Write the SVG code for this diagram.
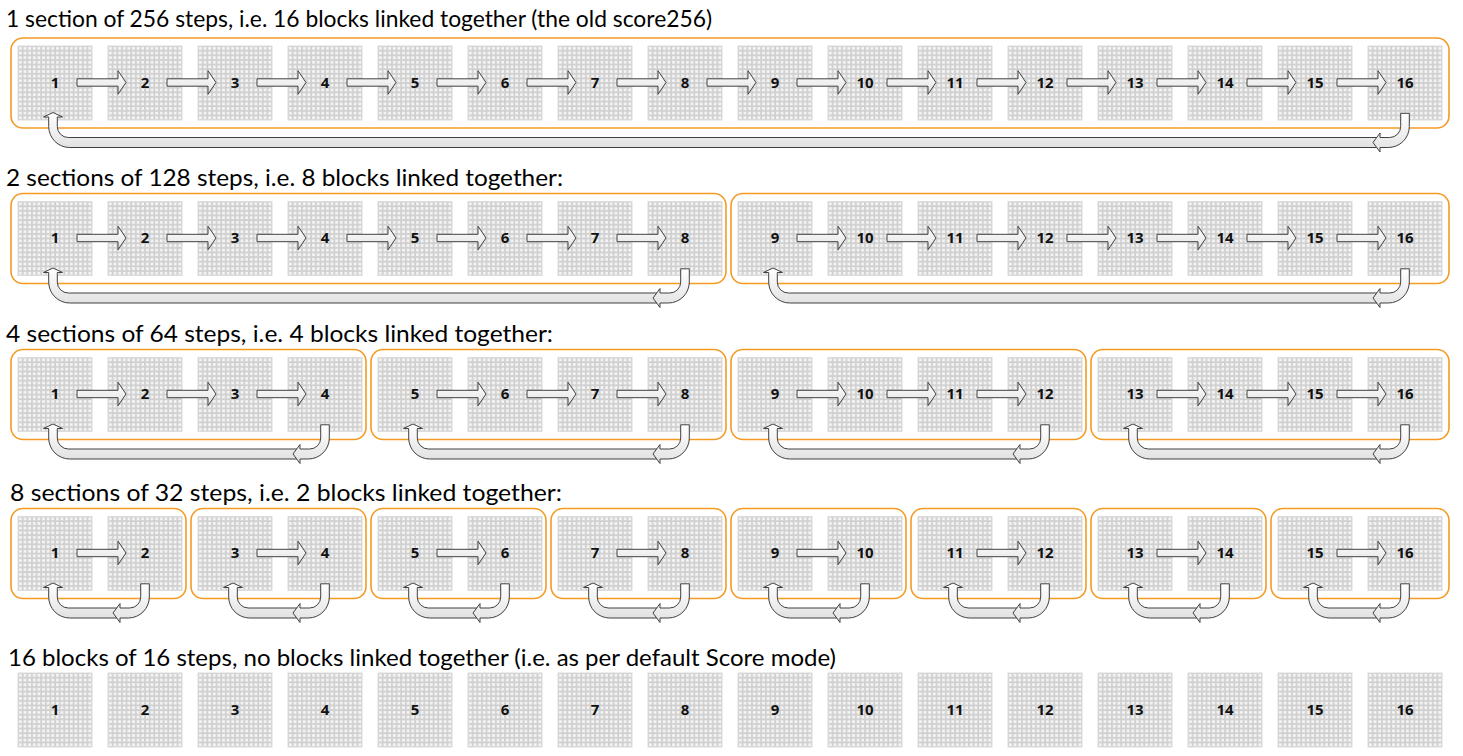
<svg xmlns="http://www.w3.org/2000/svg" xmlns:xlink="http://www.w3.org/1999/xlink" width="1463" height="756" viewBox="0 0 1463 756">
<style>
.ttl{font-family:Lato,"Open Sans","Liberation Sans",sans-serif;font-size:22.5px;fill:#000}
.num{font-family:"Open Sans","Liberation Sans",sans-serif;font-weight:700;font-size:15px;text-anchor:middle;fill:#111}
.sec{fill:#fff;stroke:#f59a23;stroke-width:1.6}
.arr{fill:url(#ag);stroke:#404040;stroke-width:1;stroke-linejoin:miter}
</style>
<defs>
<linearGradient id="ag" x1="0" y1="0" x2="0" y2="1"><stop offset="0" stop-color="#ffffff"/><stop offset="1" stop-color="#e2e2e2"/></linearGradient>
<pattern id="dots" width="4.625" height="4.625" patternUnits="userSpaceOnUse"><rect width="4.625" height="4.625" fill="#d0d0d0"/><rect x="1" y="1" width="2.8" height="2.8" fill="#f4f4f4"/></pattern>
<g id="blk"><rect x="0" y="0" width="74" height="74" fill="url(#dots)" stroke="#dcdcdc" stroke-width="1"/></g>
<path id="fa" class="arr" d="M0,-3.7 H41 V-11.8 L49,0 L41,11.8 V3.7 H0 Z"/>
<path id="ua" class="arr" d="M-4.3,67.3 L4.3,67.3 L4.3,80.5 A21 21 0 0 1 -16.7,101.5 L-25,101.5 L-25,106 L-32,96.5 L-25,87 L-25,91.5 L-15.3,91.5 A11 11 0 0 0 -4.3,80.5 Z"/>
</defs>
<rect width="1463" height="756" fill="#fff"/>

<g id="titles">
<text class="ttl" x="6" y="27" textLength="706" lengthAdjust="spacingAndGlyphs">1 section of 256 steps, i.e. 16 blocks linked together (the old score256)</text>
<text class="ttl" x="6" y="186" textLength="557" lengthAdjust="spacingAndGlyphs">2 sections of 128 steps, i.e. 8 blocks linked together:</text>
<text class="ttl" x="6" y="342" textLength="547" lengthAdjust="spacingAndGlyphs">4 sections of 64 steps, i.e. 4 blocks linked together:</text>
<text class="ttl" x="10" y="501" textLength="552" lengthAdjust="spacingAndGlyphs">8 sections of 32 steps, i.e. 2 blocks linked together:</text>
<text class="ttl" x="8" y="666" textLength="828" lengthAdjust="spacingAndGlyphs">16 blocks of 16 steps, no blocks linked together (i.e. as per default Score mode)</text>
</g>

<g id="sections">
<g id="r1-s1"><rect class="sec" x="11" y="38" width="1438" height="90" rx="12"/></g>
<g id="r2-s1"><rect class="sec" x="11" y="193.5" width="715" height="90" rx="12"/></g>
<g id="r2-s2"><rect class="sec" x="731" y="193.5" width="718" height="90" rx="12"/></g>
<g id="r3-s1"><rect class="sec" x="11" y="349.5" width="355" height="90" rx="12"/></g>
<g id="r3-s2"><rect class="sec" x="371" y="349.5" width="355" height="90" rx="12"/></g>
<g id="r3-s3"><rect class="sec" x="731" y="349.5" width="355" height="90" rx="12"/></g>
<g id="r3-s4"><rect class="sec" x="1091" y="349.5" width="358" height="90" rx="12"/></g>
<g id="r4-s1"><rect class="sec" x="11" y="508.5" width="175" height="90" rx="12"/></g>
<g id="r4-s2"><rect class="sec" x="191" y="508.5" width="175" height="90" rx="12"/></g>
<g id="r4-s3"><rect class="sec" x="371" y="508.5" width="175" height="90" rx="12"/></g>
<g id="r4-s4"><rect class="sec" x="551" y="508.5" width="175" height="90" rx="12"/></g>
<g id="r4-s5"><rect class="sec" x="731" y="508.5" width="175" height="90" rx="12"/></g>
<g id="r4-s6"><rect class="sec" x="911" y="508.5" width="175" height="90" rx="12"/></g>
<g id="r4-s7"><rect class="sec" x="1091" y="508.5" width="175" height="90" rx="12"/></g>
<g id="r4-s8"><rect class="sec" x="1271" y="508.5" width="178" height="90" rx="12"/></g>
</g>

<g id="row1">
<g id="r1-b1"><use href="#blk" x="18" y="46"/><text class="num" x="55" y="87.5">1</text></g>
<g id="r1-b2"><use href="#blk" x="108" y="46"/><text class="num" x="145" y="87.5">2</text></g>
<g id="r1-b3"><use href="#blk" x="198" y="46"/><text class="num" x="235" y="87.5">3</text></g>
<g id="r1-b4"><use href="#blk" x="288" y="46"/><text class="num" x="325" y="87.5">4</text></g>
<g id="r1-b5"><use href="#blk" x="378" y="46"/><text class="num" x="415" y="87.5">5</text></g>
<g id="r1-b6"><use href="#blk" x="468" y="46"/><text class="num" x="505" y="87.5">6</text></g>
<g id="r1-b7"><use href="#blk" x="558" y="46"/><text class="num" x="595" y="87.5">7</text></g>
<g id="r1-b8"><use href="#blk" x="648" y="46"/><text class="num" x="685" y="87.5">8</text></g>
<g id="r1-b9"><use href="#blk" x="738" y="46"/><text class="num" x="775" y="87.5">9</text></g>
<g id="r1-b10"><use href="#blk" x="828" y="46"/><text class="num" x="865" y="87.5">10</text></g>
<g id="r1-b11"><use href="#blk" x="918" y="46"/><text class="num" x="955" y="87.5">11</text></g>
<g id="r1-b12"><use href="#blk" x="1008" y="46"/><text class="num" x="1045" y="87.5">12</text></g>
<g id="r1-b13"><use href="#blk" x="1098" y="46"/><text class="num" x="1135" y="87.5">13</text></g>
<g id="r1-b14"><use href="#blk" x="1188" y="46"/><text class="num" x="1225" y="87.5">14</text></g>
<g id="r1-b15"><use href="#blk" x="1278" y="46"/><text class="num" x="1315" y="87.5">15</text></g>
<g id="r1-b16"><use href="#blk" x="1368" y="46"/><text class="num" x="1405" y="87.5">16</text></g>
</g>

<g id="row2">
<g id="r2-b1"><use href="#blk" x="18" y="201.5"/><text class="num" x="55" y="243">1</text></g>
<g id="r2-b2"><use href="#blk" x="108" y="201.5"/><text class="num" x="145" y="243">2</text></g>
<g id="r2-b3"><use href="#blk" x="198" y="201.5"/><text class="num" x="235" y="243">3</text></g>
<g id="r2-b4"><use href="#blk" x="288" y="201.5"/><text class="num" x="325" y="243">4</text></g>
<g id="r2-b5"><use href="#blk" x="378" y="201.5"/><text class="num" x="415" y="243">5</text></g>
<g id="r2-b6"><use href="#blk" x="468" y="201.5"/><text class="num" x="505" y="243">6</text></g>
<g id="r2-b7"><use href="#blk" x="558" y="201.5"/><text class="num" x="595" y="243">7</text></g>
<g id="r2-b8"><use href="#blk" x="648" y="201.5"/><text class="num" x="685" y="243">8</text></g>
<g id="r2-b9"><use href="#blk" x="738" y="201.5"/><text class="num" x="775" y="243">9</text></g>
<g id="r2-b10"><use href="#blk" x="828" y="201.5"/><text class="num" x="865" y="243">10</text></g>
<g id="r2-b11"><use href="#blk" x="918" y="201.5"/><text class="num" x="955" y="243">11</text></g>
<g id="r2-b12"><use href="#blk" x="1008" y="201.5"/><text class="num" x="1045" y="243">12</text></g>
<g id="r2-b13"><use href="#blk" x="1098" y="201.5"/><text class="num" x="1135" y="243">13</text></g>
<g id="r2-b14"><use href="#blk" x="1188" y="201.5"/><text class="num" x="1225" y="243">14</text></g>
<g id="r2-b15"><use href="#blk" x="1278" y="201.5"/><text class="num" x="1315" y="243">15</text></g>
<g id="r2-b16"><use href="#blk" x="1368" y="201.5"/><text class="num" x="1405" y="243">16</text></g>
</g>

<g id="row3">
<g id="r3-b1"><use href="#blk" x="18" y="357.5"/><text class="num" x="55" y="399">1</text></g>
<g id="r3-b2"><use href="#blk" x="108" y="357.5"/><text class="num" x="145" y="399">2</text></g>
<g id="r3-b3"><use href="#blk" x="198" y="357.5"/><text class="num" x="235" y="399">3</text></g>
<g id="r3-b4"><use href="#blk" x="288" y="357.5"/><text class="num" x="325" y="399">4</text></g>
<g id="r3-b5"><use href="#blk" x="378" y="357.5"/><text class="num" x="415" y="399">5</text></g>
<g id="r3-b6"><use href="#blk" x="468" y="357.5"/><text class="num" x="505" y="399">6</text></g>
<g id="r3-b7"><use href="#blk" x="558" y="357.5"/><text class="num" x="595" y="399">7</text></g>
<g id="r3-b8"><use href="#blk" x="648" y="357.5"/><text class="num" x="685" y="399">8</text></g>
<g id="r3-b9"><use href="#blk" x="738" y="357.5"/><text class="num" x="775" y="399">9</text></g>
<g id="r3-b10"><use href="#blk" x="828" y="357.5"/><text class="num" x="865" y="399">10</text></g>
<g id="r3-b11"><use href="#blk" x="918" y="357.5"/><text class="num" x="955" y="399">11</text></g>
<g id="r3-b12"><use href="#blk" x="1008" y="357.5"/><text class="num" x="1045" y="399">12</text></g>
<g id="r3-b13"><use href="#blk" x="1098" y="357.5"/><text class="num" x="1135" y="399">13</text></g>
<g id="r3-b14"><use href="#blk" x="1188" y="357.5"/><text class="num" x="1225" y="399">14</text></g>
<g id="r3-b15"><use href="#blk" x="1278" y="357.5"/><text class="num" x="1315" y="399">15</text></g>
<g id="r3-b16"><use href="#blk" x="1368" y="357.5"/><text class="num" x="1405" y="399">16</text></g>
</g>

<g id="row4">
<g id="r4-b1"><use href="#blk" x="18" y="516.5"/><text class="num" x="55" y="558">1</text></g>
<g id="r4-b2"><use href="#blk" x="108" y="516.5"/><text class="num" x="145" y="558">2</text></g>
<g id="r4-b3"><use href="#blk" x="198" y="516.5"/><text class="num" x="235" y="558">3</text></g>
<g id="r4-b4"><use href="#blk" x="288" y="516.5"/><text class="num" x="325" y="558">4</text></g>
<g id="r4-b5"><use href="#blk" x="378" y="516.5"/><text class="num" x="415" y="558">5</text></g>
<g id="r4-b6"><use href="#blk" x="468" y="516.5"/><text class="num" x="505" y="558">6</text></g>
<g id="r4-b7"><use href="#blk" x="558" y="516.5"/><text class="num" x="595" y="558">7</text></g>
<g id="r4-b8"><use href="#blk" x="648" y="516.5"/><text class="num" x="685" y="558">8</text></g>
<g id="r4-b9"><use href="#blk" x="738" y="516.5"/><text class="num" x="775" y="558">9</text></g>
<g id="r4-b10"><use href="#blk" x="828" y="516.5"/><text class="num" x="865" y="558">10</text></g>
<g id="r4-b11"><use href="#blk" x="918" y="516.5"/><text class="num" x="955" y="558">11</text></g>
<g id="r4-b12"><use href="#blk" x="1008" y="516.5"/><text class="num" x="1045" y="558">12</text></g>
<g id="r4-b13"><use href="#blk" x="1098" y="516.5"/><text class="num" x="1135" y="558">13</text></g>
<g id="r4-b14"><use href="#blk" x="1188" y="516.5"/><text class="num" x="1225" y="558">14</text></g>
<g id="r4-b15"><use href="#blk" x="1278" y="516.5"/><text class="num" x="1315" y="558">15</text></g>
<g id="r4-b16"><use href="#blk" x="1368" y="516.5"/><text class="num" x="1405" y="558">16</text></g>
</g>

<g id="row5">
<g id="r5-b1"><use href="#blk" x="18" y="673"/><text class="num" x="55" y="714.5">1</text></g>
<g id="r5-b2"><use href="#blk" x="108" y="673"/><text class="num" x="145" y="714.5">2</text></g>
<g id="r5-b3"><use href="#blk" x="198" y="673"/><text class="num" x="235" y="714.5">3</text></g>
<g id="r5-b4"><use href="#blk" x="288" y="673"/><text class="num" x="325" y="714.5">4</text></g>
<g id="r5-b5"><use href="#blk" x="378" y="673"/><text class="num" x="415" y="714.5">5</text></g>
<g id="r5-b6"><use href="#blk" x="468" y="673"/><text class="num" x="505" y="714.5">6</text></g>
<g id="r5-b7"><use href="#blk" x="558" y="673"/><text class="num" x="595" y="714.5">7</text></g>
<g id="r5-b8"><use href="#blk" x="648" y="673"/><text class="num" x="685" y="714.5">8</text></g>
<g id="r5-b9"><use href="#blk" x="738" y="673"/><text class="num" x="775" y="714.5">9</text></g>
<g id="r5-b10"><use href="#blk" x="828" y="673"/><text class="num" x="865" y="714.5">10</text></g>
<g id="r5-b11"><use href="#blk" x="918" y="673"/><text class="num" x="955" y="714.5">11</text></g>
<g id="r5-b12"><use href="#blk" x="1008" y="673"/><text class="num" x="1045" y="714.5">12</text></g>
<g id="r5-b13"><use href="#blk" x="1098" y="673"/><text class="num" x="1135" y="714.5">13</text></g>
<g id="r5-b14"><use href="#blk" x="1188" y="673"/><text class="num" x="1225" y="714.5">14</text></g>
<g id="r5-b15"><use href="#blk" x="1278" y="673"/><text class="num" x="1315" y="714.5">15</text></g>
<g id="r5-b16"><use href="#blk" x="1368" y="673"/><text class="num" x="1405" y="714.5">16</text></g>
</g>

<g id="connectors">
<use href="#fa" x="77" y="82.5"/><use href="#fa" x="167" y="82.5"/><use href="#fa" x="257" y="82.5"/><use href="#fa" x="347" y="82.5"/><use href="#fa" x="437" y="82.5"/><use href="#fa" x="527" y="82.5"/><use href="#fa" x="617" y="82.5"/><use href="#fa" x="707" y="82.5"/><use href="#fa" x="797" y="82.5"/><use href="#fa" x="887" y="82.5"/><use href="#fa" x="977" y="82.5"/><use href="#fa" x="1067" y="82.5"/><use href="#fa" x="1157" y="82.5"/><use href="#fa" x="1247" y="82.5"/><use href="#fa" x="1337" y="82.5"/>
<use href="#fa" x="77" y="238"/><use href="#fa" x="167" y="238"/><use href="#fa" x="257" y="238"/><use href="#fa" x="347" y="238"/><use href="#fa" x="437" y="238"/><use href="#fa" x="527" y="238"/><use href="#fa" x="617" y="238"/>
<use href="#fa" x="797" y="238"/><use href="#fa" x="887" y="238"/><use href="#fa" x="977" y="238"/><use href="#fa" x="1067" y="238"/><use href="#fa" x="1157" y="238"/><use href="#fa" x="1247" y="238"/><use href="#fa" x="1337" y="238"/>
<use href="#fa" x="77" y="394"/><use href="#fa" x="167" y="394"/><use href="#fa" x="257" y="394"/>
<use href="#fa" x="437" y="394"/><use href="#fa" x="527" y="394"/><use href="#fa" x="617" y="394"/>
<use href="#fa" x="797" y="394"/><use href="#fa" x="887" y="394"/><use href="#fa" x="977" y="394"/>
<use href="#fa" x="1157" y="394"/><use href="#fa" x="1247" y="394"/><use href="#fa" x="1337" y="394"/>
<use href="#fa" x="77" y="553"/><use href="#fa" x="257" y="553"/><use href="#fa" x="437" y="553"/><use href="#fa" x="617" y="553"/><use href="#fa" x="797" y="553"/><use href="#fa" x="977" y="553"/><use href="#fa" x="1157" y="553"/><use href="#fa" x="1337" y="553"/>

<path class="arr" transform="translate(53,46)" d="M0,66.5 L9.5,71 L4.3,71 L4.3,80.5 A11 11 0 0 0 15.3,91.5 L1325,91.5 L1325,101.5 L16.7,101.5 A21 21 0 0 1 -4.3,80.5 L-4.3,71 L-9.5,71 Z"/>
<use href="#ua" x="1405" y="46"/>
<path class="arr" transform="translate(53,201.5)" d="M0,66.5 L9.5,71 L4.3,71 L4.3,80.5 A11 11 0 0 0 15.3,91.5 L605,91.5 L605,101.5 L16.7,101.5 A21 21 0 0 1 -4.3,80.5 L-4.3,71 L-9.5,71 Z"/>
<use href="#ua" x="685" y="201.5"/>
<path class="arr" transform="translate(773,201.5)" d="M0,66.5 L9.5,71 L4.3,71 L4.3,80.5 A11 11 0 0 0 15.3,91.5 L605,91.5 L605,101.5 L16.7,101.5 A21 21 0 0 1 -4.3,80.5 L-4.3,71 L-9.5,71 Z"/>
<use href="#ua" x="1405" y="201.5"/>
<path class="arr" transform="translate(53,357.5)" d="M0,66.5 L9.5,71 L4.3,71 L4.3,80.5 A11 11 0 0 0 15.3,91.5 L245,91.5 L245,101.5 L16.7,101.5 A21 21 0 0 1 -4.3,80.5 L-4.3,71 L-9.5,71 Z"/>
<use href="#ua" x="325" y="357.5"/>
<path class="arr" transform="translate(413,357.5)" d="M0,66.5 L9.5,71 L4.3,71 L4.3,80.5 A11 11 0 0 0 15.3,91.5 L245,91.5 L245,101.5 L16.7,101.5 A21 21 0 0 1 -4.3,80.5 L-4.3,71 L-9.5,71 Z"/>
<use href="#ua" x="685" y="357.5"/>
<path class="arr" transform="translate(773,357.5)" d="M0,66.5 L9.5,71 L4.3,71 L4.3,80.5 A11 11 0 0 0 15.3,91.5 L245,91.5 L245,101.5 L16.7,101.5 A21 21 0 0 1 -4.3,80.5 L-4.3,71 L-9.5,71 Z"/>
<use href="#ua" x="1045" y="357.5"/>
<path class="arr" transform="translate(1133,357.5)" d="M0,66.5 L9.5,71 L4.3,71 L4.3,80.5 A11 11 0 0 0 15.3,91.5 L245,91.5 L245,101.5 L16.7,101.5 A21 21 0 0 1 -4.3,80.5 L-4.3,71 L-9.5,71 Z"/>
<use href="#ua" x="1405" y="357.5"/>
<path class="arr" transform="translate(53,516.5)" d="M0,66.5 L9.5,71 L4.3,71 L4.3,80.5 A11 11 0 0 0 15.3,91.5 L65,91.5 L65,101.5 L16.7,101.5 A21 21 0 0 1 -4.3,80.5 L-4.3,71 L-9.5,71 Z"/>
<use href="#ua" x="145" y="516.5"/>
<path class="arr" transform="translate(233,516.5)" d="M0,66.5 L9.5,71 L4.3,71 L4.3,80.5 A11 11 0 0 0 15.3,91.5 L65,91.5 L65,101.5 L16.7,101.5 A21 21 0 0 1 -4.3,80.5 L-4.3,71 L-9.5,71 Z"/>
<use href="#ua" x="325" y="516.5"/>
<path class="arr" transform="translate(413,516.5)" d="M0,66.5 L9.5,71 L4.3,71 L4.3,80.5 A11 11 0 0 0 15.3,91.5 L65,91.5 L65,101.5 L16.7,101.5 A21 21 0 0 1 -4.3,80.5 L-4.3,71 L-9.5,71 Z"/>
<use href="#ua" x="505" y="516.5"/>
<path class="arr" transform="translate(593,516.5)" d="M0,66.5 L9.5,71 L4.3,71 L4.3,80.5 A11 11 0 0 0 15.3,91.5 L65,91.5 L65,101.5 L16.7,101.5 A21 21 0 0 1 -4.3,80.5 L-4.3,71 L-9.5,71 Z"/>
<use href="#ua" x="685" y="516.5"/>
<path class="arr" transform="translate(773,516.5)" d="M0,66.5 L9.5,71 L4.3,71 L4.3,80.5 A11 11 0 0 0 15.3,91.5 L65,91.5 L65,101.5 L16.7,101.5 A21 21 0 0 1 -4.3,80.5 L-4.3,71 L-9.5,71 Z"/>
<use href="#ua" x="865" y="516.5"/>
<path class="arr" transform="translate(953,516.5)" d="M0,66.5 L9.5,71 L4.3,71 L4.3,80.5 A11 11 0 0 0 15.3,91.5 L65,91.5 L65,101.5 L16.7,101.5 A21 21 0 0 1 -4.3,80.5 L-4.3,71 L-9.5,71 Z"/>
<use href="#ua" x="1045" y="516.5"/>
<path class="arr" transform="translate(1133,516.5)" d="M0,66.5 L9.5,71 L4.3,71 L4.3,80.5 A11 11 0 0 0 15.3,91.5 L65,91.5 L65,101.5 L16.7,101.5 A21 21 0 0 1 -4.3,80.5 L-4.3,71 L-9.5,71 Z"/>
<use href="#ua" x="1225" y="516.5"/>
<path class="arr" transform="translate(1313,516.5)" d="M0,66.5 L9.5,71 L4.3,71 L4.3,80.5 A11 11 0 0 0 15.3,91.5 L65,91.5 L65,101.5 L16.7,101.5 A21 21 0 0 1 -4.3,80.5 L-4.3,71 L-9.5,71 Z"/>
<use href="#ua" x="1405" y="516.5"/>
</g>
</svg>
